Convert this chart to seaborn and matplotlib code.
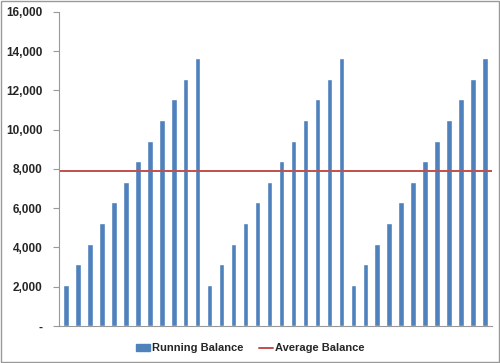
import pandas as pd
import matplotlib.pyplot as plt
import seaborn as sns
from matplotlib.lines import Line2D
from matplotlib.patches import Patch

# running balance over three 12-month cycles
cycle_values = [2100, 3150, 4200, 5250, 6300, 7350, 8400, 9450, 10500, 11550, 12600, 13650]
n_cycles = 3
running_balance = cycle_values * n_cycles
periods = list(range(1, len(running_balance) + 1))
y_ticks = [0, 2000, 4000, 6000, 8000, 10000, 12000, 14000, 16000]
y_labels = ["-", "2,000", "4,000", "6,000", "8,000", "10,000", "12,000", "14,000", "16,000"]

df = pd.DataFrame({"period": periods, "balance": running_balance})
avg_balance = df["balance"].mean()

bar_color = "#4F81BD"
line_color = "#C0504D"

sns.set_style("white")
plt.rcParams["font.family"] = ["Liberation Sans", "DejaVu Sans"]

fig = plt.figure(figsize=(5, 3.63), dpi=100)
ax = fig.add_axes([0.118, 0.102, 0.866, 0.865])

sns.barplot(ax=ax, data=df, x="period", y="balance", color=bar_color,
            width=0.45, saturation=1)
ax.axhline(avg_balance, color=line_color, lw=1.4)

ax.set_ylim(0, 16000)
ax.set_xlim(-0.6, len(periods) - 0.4)
ax.set_yticks(y_ticks)
ax.set_yticklabels(y_labels, fontsize=8.5, fontweight="bold")
ax.set_xticks([])
ax.set_xlabel("")
ax.set_ylabel("")
ax.tick_params(axis="y", length=4, color="#999999", pad=8, left=True)

for side in ["top", "right"]:
    ax.spines[side].set_visible(False)
for side in ["left", "bottom"]:
    ax.spines[side].set_color("#999999")
    ax.spines[side].set_linewidth(0.8)

handles = [Patch(color=bar_color), Line2D([0], [0], color=line_color, lw=1.4)]
fig.legend(handles, ["Running Balance", "Average Balance"], loc="center",
           bbox_to_anchor=(0.5, 0.04), ncol=2, frameon=False,
           prop={"size": 8, "weight": "bold"}, handlelength=1.3,
           handletextpad=0.15, columnspacing=1.4)

fig.patches.append(plt.Rectangle((0.002, 0.002), 0.996, 0.996, transform=fig.transFigure,
                                 fill=False, edgecolor="#999999", lw=1))

fig.savefig("out.png", dpi=100)
